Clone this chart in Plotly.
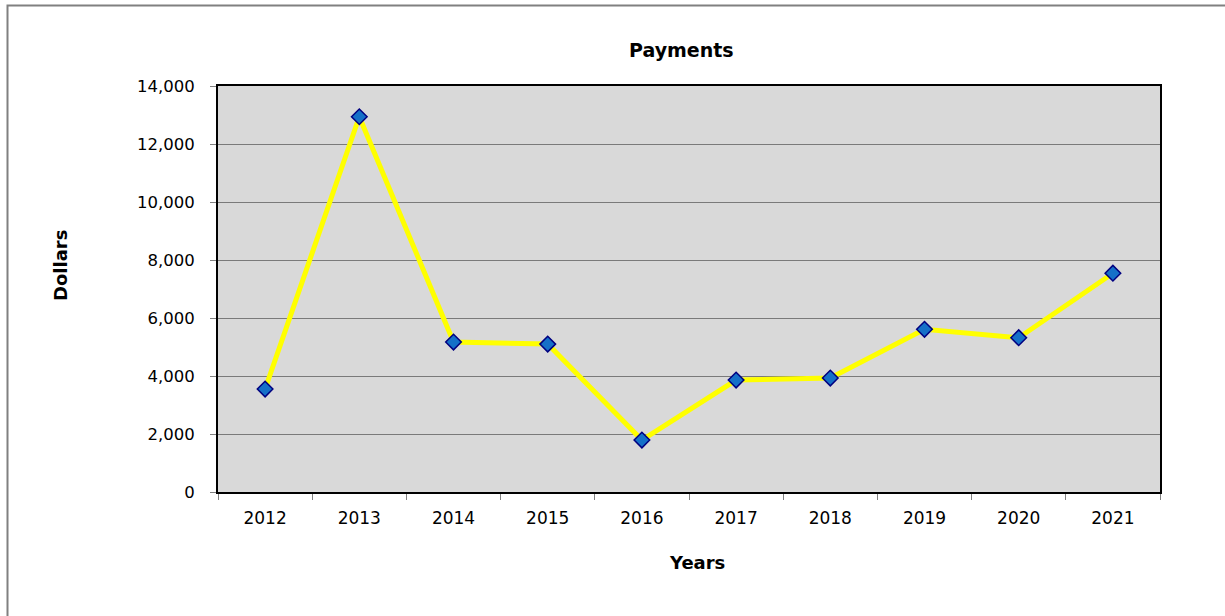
import plotly.graph_objects as go

# Annual payments
years = ["2012", "2013", "2014", "2015", "2016", "2017", "2018", "2019", "2020", "2021"]
payments = [3550, 12940, 5170, 5100, 1790, 3860, 3930, 5610, 5320, 7545]

W, H = 1225, 616
L, R, T, B = 218, 1160, 86, 492  # plot area in pixels
FONT = "DejaVu Sans"


def px_x(x):
    return (x - L) / (R - L)


def px_y(y):
    return (B - y) / (B - T)


fig = go.Figure()
fig.add_trace(go.Scatter(
    x=years, y=payments,
    mode="lines+markers",
    line=dict(color="#FFFF00", width=5),
    marker=dict(symbol="diamond", size=12, color="#1570C8",
                line=dict(color="#000080", width=1.5)),
    showlegend=False,
))

fig.update_layout(
    width=W, height=H,
    margin=dict(l=L, r=W - R, t=T, b=H - B),
    paper_bgcolor="white",
    plot_bgcolor="#D9D9D9",
    font=dict(family=FONT, size=17, color="black"),
    xaxis=dict(
        type="category",
        range=[-0.5, len(years) - 0.5],
        tickson="boundaries",
        ticks="outside", ticklen=6, tickcolor="#808080", tickwidth=1,
        ticklabelstandoff=10,
        showline=True, linecolor="black", linewidth=2, mirror=True,
        showgrid=False,
        tickfont=dict(family=FONT, size=17),
    ),
    yaxis=dict(
        range=[0, 14000], dtick=2000,
        tickformat=",d",
        ticks="outside", ticklen=6, tickcolor="#808080", tickwidth=1,
        ticklabelstandoff=12,
        showline=True, linecolor="black", linewidth=2, mirror=True,
        showgrid=True, gridcolor="#7A7A7A", gridwidth=1,
        zeroline=False,
        tickfont=dict(family=FONT, size=16.5),
    ),
    shapes=[dict(
        type="rect", xref="paper", yref="paper",
        x0=px_x(7.5), x1=px_x(1240), y0=px_y(5.5), y1=px_y(630),
        line=dict(color="#808080", width=2), fillcolor="rgba(0,0,0,0)",
        layer="below",
    )],
    annotations=[
        dict(text="<b>Payments</b>", xref="paper", yref="paper",
             x=px_x(681), y=px_y(50), showarrow=False,
             xanchor="center", yanchor="middle",
             font=dict(family=FONT, size=19)),
        dict(text="<b>Years</b>", xref="paper", yref="paper",
             x=px_x(697), y=px_y(562), showarrow=False,
             xanchor="center", yanchor="middle",
             font=dict(family=FONT, size=18)),
        dict(text="<b>Dollars</b>", xref="paper", yref="paper",
             x=px_x(60), y=px_y(266), showarrow=False, textangle=-90,
             xanchor="center", yanchor="middle",
             font=dict(family=FONT, size=18)),
    ],
)

fig.write_html("out.html")
